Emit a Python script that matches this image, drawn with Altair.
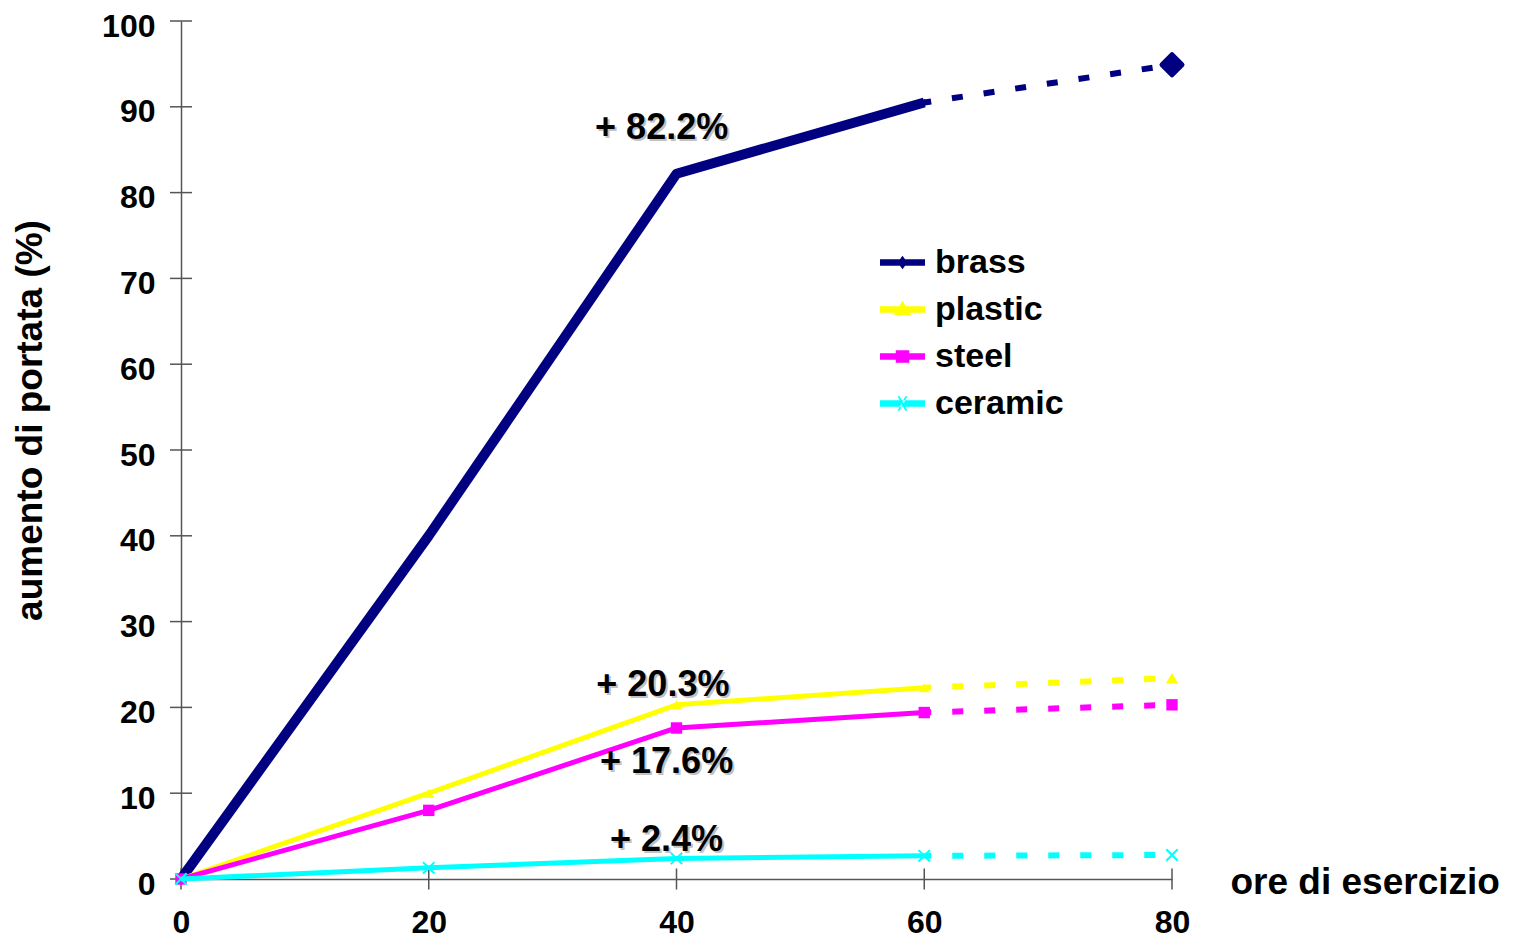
import altair as alt
import pandas as pd

# ---- data ----
hours = [0, 20, 40, 60, 80]
series_names = ["brass", "plastic", "steel", "ceramic"]
brass = [0.0, 40.0, 82.2, 90.5, 94.9]
plastic = [0.0, 10.0, 20.3, 22.3, 23.4]
steel = [0.0, 8.0, 17.6, 19.4, 20.3]
ceramic = [0.0, 1.3, 2.4, 2.7, 2.8]
colors = ["#000080", "#FFFF00", "#FF00FF", "#00FFFF"]

x_ticks = [0, 20, 40, 60, 80]
y_ticks = [0, 10, 20, 30, 40, 50, 60, 70, 80, 90, 100]

ann_text = ["+ 82.2%", "+ 20.3%", "+ 17.6%", "+ 2.4%"]
ann_x = [38.8, 38.9, 39.2, 39.2]
ann_y = [87.5, 22.6, 13.6, 4.6]

FONT = "Liberation Sans"

values = {"brass": brass, "plastic": plastic, "steel": steel, "ceramic": ceramic}
rows = []
for s in series_names:
    for h, v in zip(hours, values[s]):
        rows.append({"series": s, "hours": h, "value": v})
df = pd.DataFrame(rows)

x_enc = alt.X(
    "hours:Q",
    scale=alt.Scale(domain=[0, 80], nice=False),
    axis=alt.Axis(
        values=x_ticks, grid=False, ticks=False, tickSize=0,
        domainColor="#555555", domainWidth=1.5,
        labelFont=FONT, labelFontSize=32, labelFontWeight="bold", labelColor="black",
        labelPadding=28, labelFlush=False,
        title="ore di esercizio", titleFont=FONT, titleFontSize=37, titleFontWeight="bold",
        titleColor="black", titleX=1049, titleY=3, titleAlign="left", titleBaseline="middle",
        titleAngle=0,
    ),
)
y_enc = alt.Y(
    "value:Q",
    scale=alt.Scale(domain=[0, 100], nice=False),
    axis=alt.Axis(
        values=y_ticks, grid=False, ticks=False, tickSize=0,
        domainColor="#555555", domainWidth=1.5,
        labelFont=FONT, labelFontSize=32, labelFontWeight="bold", labelColor="black",
        labelPadding=26, labelOffset=5, labelFlush=False,
        title="aumento di portata (%)", titleFont=FONT, titleFontSize=37, titleFontWeight="bold",
        titleColor="black", titleX=-151, titleY=399, titleAngle=270,
        titleAlign="center", titleBaseline="middle",
    ),
)

layers = []

# crossing tick marks
layers.append(
    alt.Chart(pd.DataFrame({"hours": x_ticks}))
    .mark_tick(orient="vertical", size=21, thickness=1.5, color="#555555", opacity=1)
    .encode(x=x_enc, y=alt.datum(0))
)
layers.append(
    alt.Chart(pd.DataFrame({"value": y_ticks}))
    .mark_tick(orient="horizontal", size=22, thickness=1.5, color="#555555", opacity=1)
    .encode(y=y_enc, x=alt.datum(0))
)

solid_w = {"brass": 10, "plastic": 5, "steel": 5, "ceramic": 5}
dash_w = {"brass": 6, "plastic": 6, "steel": 6, "ceramic": 6}
x_path = "M-1,-1L1,1M-1,1L1,-1"

for s, c in zip(series_names, colors):
    base = alt.Chart(df).transform_filter(alt.datum.series == s)
    layers.append(
        base.transform_filter(alt.datum.hours <= 60)
        .mark_line(color=c, strokeWidth=solid_w[s], strokeJoin="round", strokeCap="butt")
        .encode(x=x_enc, y=y_enc)
    )
    layers.append(
        base.transform_filter(alt.datum.hours >= 60)
        .mark_line(color=c, strokeWidth=dash_w[s], strokeDash=[11, 21], strokeDashOffset=4)
        .encode(x=x_enc, y=y_enc)
    )
    inner = base.transform_filter(alt.datum.hours < 80)
    end = base.transform_filter(alt.datum.hours == 80)
    if s == "brass":
        layers.append(inner.mark_point(shape="diamond", filled=True, color=c, size=60, opacity=1)
                      .encode(x=x_enc, y=y_enc))
        layers.append(end.mark_point(shape="diamond", filled=True, color=c, size=400, opacity=1,
                                     stroke=c, strokeWidth=5, strokeJoin="round")
                      .encode(x=x_enc, y=y_enc))
    elif s == "plastic":
        layers.append(inner.mark_point(shape="triangle-up", filled=True, color=c, size=110, opacity=1)
                      .encode(x=x_enc, y=y_enc))
        layers.append(end.mark_point(shape="triangle-up", filled=True, color=c, size=150, opacity=1)
                      .encode(x=x_enc, y=y_enc))
    elif s == "steel":
        layers.append(base.mark_point(shape="square", filled=True, color=c, size=130, opacity=1)
                      .encode(x=x_enc, y=y_enc))
    else:
        layers.append(base.mark_point(shape=x_path, filled=False, color=c, size=130, opacity=1,
                                      strokeWidth=2)
                      .encode(x=x_enc, y=y_enc))

# annotations
ann_df = pd.DataFrame({"label": ann_text, "hours": ann_x, "value": ann_y})
layers.append(
    alt.Chart(ann_df).mark_text(font=FONT, fontSize=36, fontWeight="bold", color="#9a9a9a",
                                opacity=0.6, align="center", baseline="middle", dx=2, dy=2)
    .encode(x=x_enc, y=y_enc, text="label:N")
)
layers.append(
    alt.Chart(ann_df).mark_text(font=FONT, fontSize=36, fontWeight="bold", color="black",
                                align="center", baseline="middle")
    .encode(x=x_enc, y=y_enc, text="label:N")
)

# legend (line + marker symbols)
k = 0.14
line_part = f"M-1,-{k}H1V{k}H-1Z"
legend_paths = [
    line_part + " M0,-0.3L0.22,0L0,0.3L-0.22,0Z",
    line_part + " M0,-0.38L0.38,0.24L-0.38,0.24Z",
    line_part + " M-0.3,-0.28H0.3V0.28H-0.3Z",
    line_part + " M-0.22,-0.32L-0.13,-0.32L0.22,0.32L0.13,0.32Z M0.22,-0.32L0.13,-0.32L-0.22,0.32L-0.13,0.32Z",
]
leg = alt.Legend(
    orient="none", legendX=699, legendY=219, title=None, padding=0,
    symbolSize=2025, symbolStrokeWidth=0, symbolOpacity=1,
    labelFont=FONT, labelFontSize=34, labelFontWeight="bold", labelColor="black",
    labelOffset=10, rowPadding=7, labelLimit=400,
)
layers.append(
    alt.Chart(pd.DataFrame({"series": series_names}))
    .transform_filter("false")
    .mark_point(filled=True, opacity=1)
    .encode(
        color=alt.Color("series:N", scale=alt.Scale(domain=series_names, range=colors), legend=leg,
                        sort=series_names),
        shape=alt.Shape("series:N", scale=alt.Scale(domain=series_names, range=legend_paths), legend=leg,
                        sort=series_names),
    )
)

chart = (
    alt.layer(*layers)
    .properties(
        width=991, height=858,
        autosize=alt.AutoSizeParams(type="none"),
        padding={"left": 173, "top": 13, "right": 330, "bottom": 63},
        background="white",
    )
    .configure_view(stroke=None)
)

chart.save("out.html", embed_options={"renderer": "svg", "actions": False})
